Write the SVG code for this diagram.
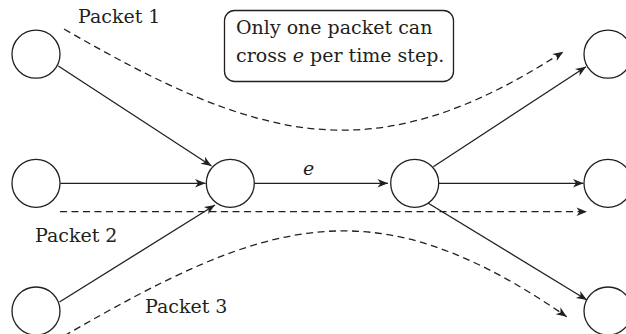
<svg xmlns="http://www.w3.org/2000/svg" width="626" height="334" viewBox="0 0 626 334">
<defs>
<style>
.node{fill:#fff;stroke:#231f20;stroke-width:1.3}
.edge{fill:none;stroke:#231f20;stroke-width:1.3}
.dash{fill:none;stroke:#231f20;stroke-width:1.3;stroke-dasharray:7 4.5}
.lbl{font-family:"DejaVu Serif",serif;font-size:19px;fill:#231f20}
.it{font-style:italic}
.box{fill:#fff;stroke:#231f20;stroke-width:1.3}
</style>
<marker id="arr" markerUnits="userSpaceOnUse" markerWidth="14" markerHeight="12" viewBox="-11 -6 12 12" refX="0" refY="0" orient="auto">
<path d="M0,0 L-10.5,-4.2 L-7.5,0 L-10.5,4.2 Z" fill="#231f20"/>
</marker>
</defs>
<g id="connectors">
<path class="edge" d="M58.3,66 L211.5,166" marker-end="url(#arr)"/>
<path class="edge" d="M60.3,183.3 L205.5,183.3" marker-end="url(#arr)"/>
<path class="edge" d="M59.5,302 L215,205" marker-end="url(#arr)"/>
<path class="edge" d="M254.3,183.3 L388,183.3" marker-end="url(#arr)"/>
<path class="edge" d="M433.3,166.7 L586,66.7" marker-end="url(#arr)"/>
<path class="edge" d="M438.7,183.3 L583.5,183.3" marker-end="url(#arr)"/>
<path class="edge" d="M428.3,203.3 L587,300" marker-end="url(#arr)"/>
<path class="dash" d="M64,29 C260,142 373,175 563.3,51.7" marker-end="url(#arr)"/>
<path class="dash" d="M60,211.7 L587,211.7" marker-end="url(#arr)"/>
<path class="dash" d="M64,336 C268,218 373,183 566.7,316.7" marker-end="url(#arr)"/>
<text class="lbl it" x="303" y="175">e</text>
</g>
<g id="L1"><circle class="node" cx="36" cy="54.2" r="24"/></g>
<g id="L2"><circle class="node" cx="36" cy="183.3" r="24"/></g>
<g id="L3"><circle class="node" cx="36" cy="311" r="24"/></g>
<g id="M"><circle class="node" cx="230.3" cy="183.3" r="24"/></g>
<g id="N"><circle class="node" cx="414.7" cy="183.3" r="24"/></g>
<g id="R1"><circle class="node" cx="608" cy="54.2" r="24"/></g>
<g id="R2"><circle class="node" cx="608" cy="183.3" r="24"/></g>
<g id="R3"><circle class="node" cx="608" cy="311" r="24"/></g>
<g id="note">
<rect class="box" x="224.5" y="10.5" width="229" height="71" rx="10" ry="10"/>
<text class="lbl" x="236" y="34.3">Only one packet can</text>
<text class="lbl" x="236" y="61.7">cross <tspan class="it">e</tspan> per time step.</text>
</g>
<g id="labels">
<text class="lbl" x="78" y="22.7">Packet 1</text>
<text class="lbl" x="35" y="242.3">Packet 2</text>
<text class="lbl" x="145" y="313.3">Packet 3</text>
</g>
</svg>
